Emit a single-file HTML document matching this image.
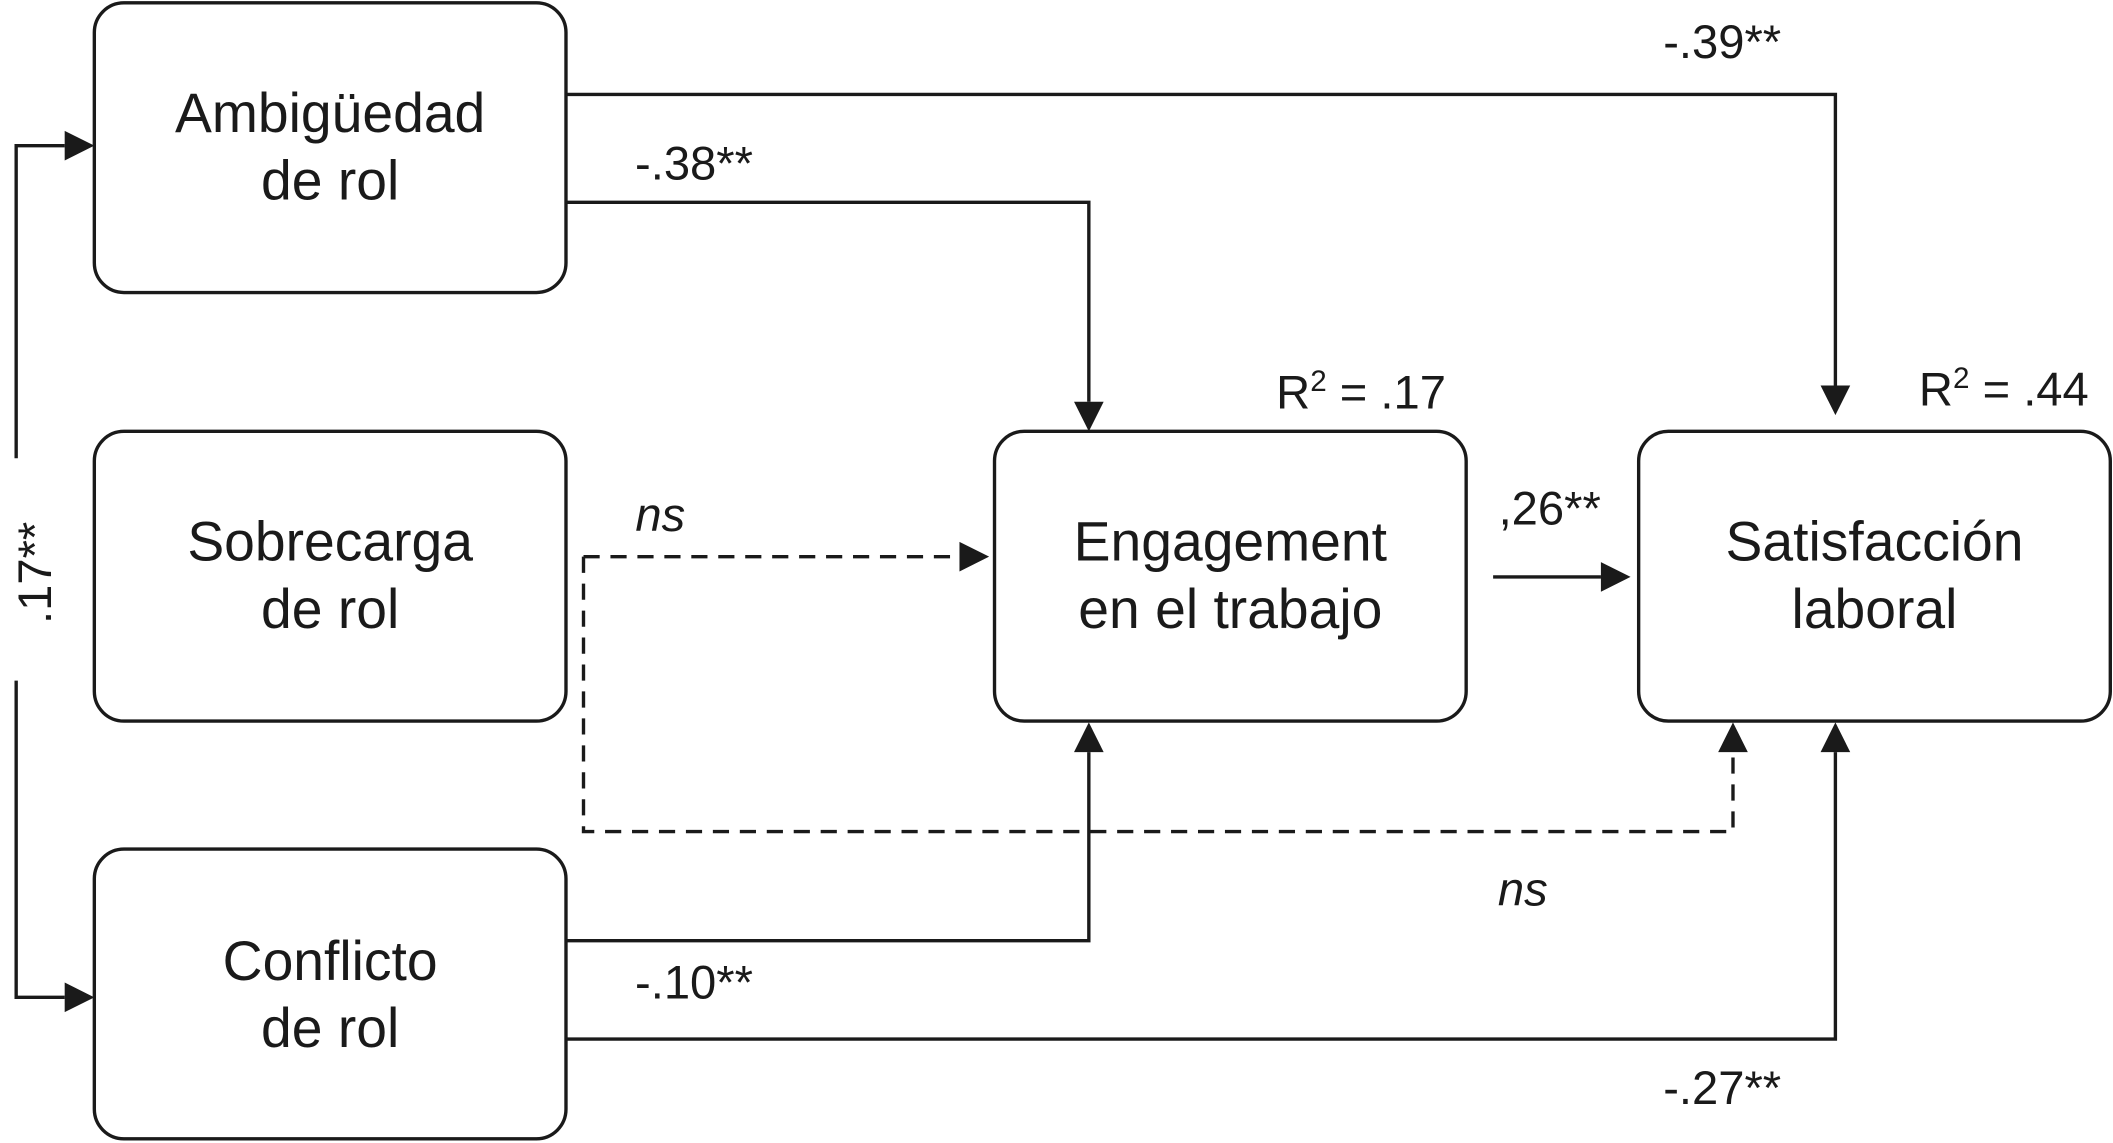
<!DOCTYPE html>
<html><head><meta charset="utf-8"><style>
html,body{margin:0;padding:0;background:#fff;}
svg{display:block;}
text{font-family:"Liberation Sans",sans-serif;fill:#1a1a1a;}
</style></head><body>
<svg width="2113" height="1143" viewBox="0 0 1568 848" xmlns="http://www.w3.org/2000/svg">
<g fill="none" stroke="#1a1a1a" stroke-width="2.5">
<rect x="70" y="2" width="350" height="215" rx="22"/>
<rect x="70" y="320" width="350" height="215" rx="22"/>
<rect x="70" y="630" width="350" height="215" rx="22"/>
<rect x="738" y="320" width="350" height="215" rx="22"/>
<rect x="1216" y="320" width="350" height="215" rx="22"/>
</g>
<g fill="none" stroke="#1a1a1a" stroke-width="2.5">
<polyline points="420,70 1362,70 1362,286"/>
<polyline points="420,150 808,150 808,298"/>
<polyline points="12,340 12,108 48,108"/>
<polyline points="12,505 12,740 48,740"/>
<polyline points="420,698 808,698 808,558"/>
<polyline points="420,771 1362,771 1362,558"/>
<line x1="1108" y1="428" x2="1188" y2="428"/>
<g stroke-dasharray="12,8">
<polyline points="433,413 712,413"/>
<polyline points="433,413 433,617 1286,617 1286,558"/>
</g>
</g>
<g fill="#1a1a1a">
<path d="M1351,286 L1373,286 L1362,308 z"/>
<path d="M797,298 L819,298 L808,320 z"/>
<path d="M48,97 L48,119 L70,108 z"/>
<path d="M48,729 L48,751 L70,740 z"/>
<path d="M797,558 L819,558 L808,536 z"/>
<path d="M1351,558 L1373,558 L1362,536 z"/>
<path d="M1188,417 L1188,439 L1210,428 z"/>
<path d="M712,402 L712,424 L734,413 z"/>
<path d="M1275,558 L1297,558 L1286,536 z"/>
</g>
<g font-size="41" text-anchor="middle">
<text x="245" y="98">Ambigüedad</text><text x="245" y="148">de rol</text>
<text x="245" y="416">Sobrecarga</text><text x="245" y="466">de rol</text>
<text x="245" y="727">Conflicto</text><text x="245" y="777">de rol</text>
<text x="913" y="416">Engagement</text><text x="913" y="466">en el trabajo</text>
<text x="1391" y="416">Satisfacción</text><text x="1391" y="466">laboral</text>
</g>
<g font-size="35" text-anchor="middle">
<text x="1278" y="43">-.39**</text>
<text x="515" y="133">-.38**</text>
<text x="1010" y="303">R<tspan font-size="22" dy="-13">2</tspan><tspan dy="13"> = .17</tspan></text>
<text x="1487" y="301">R<tspan font-size="22" dy="-13">2</tspan><tspan dy="13"> = .44</tspan></text>
<text x="490" y="394" font-style="italic">ns</text>
<text x="1150" y="389">,26**</text>
<text x="1130" y="672" font-style="italic">ns</text>
<text x="515" y="741">-.10**</text>
<text x="1278" y="819">-.27**</text>
<text x="0" y="0" transform="translate(38,425) rotate(-90)">.17**</text>
</g>
</svg>
</body></html>
